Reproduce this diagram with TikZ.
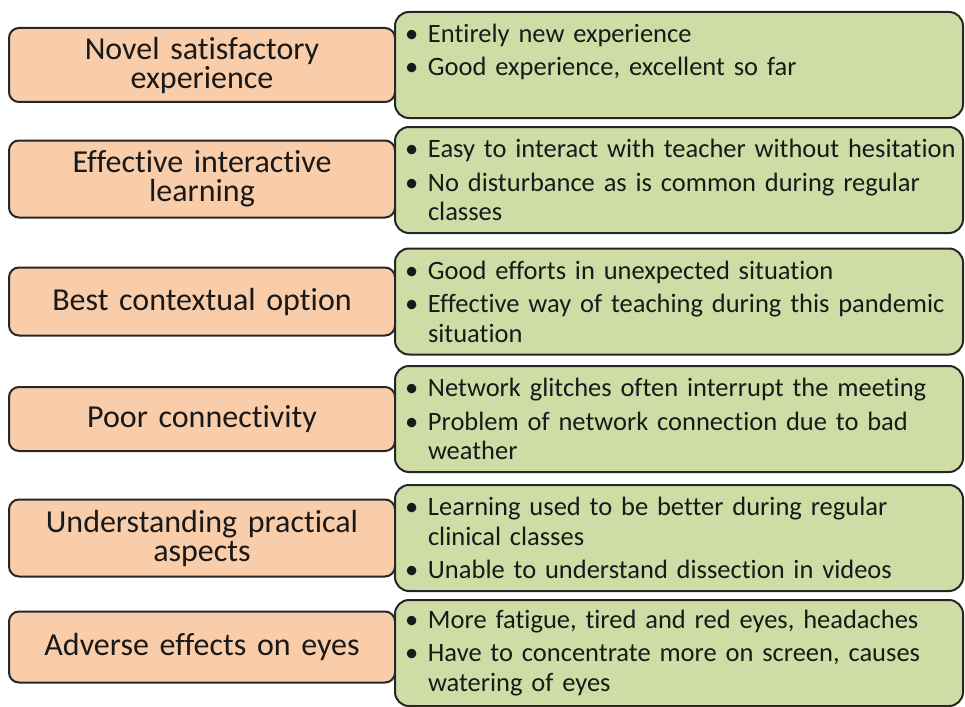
\documentclass[tikz,border=0pt]{standalone}
\usepackage{fontspec}
\setmainfont{Carlito}[Ligatures=NoCommon]
\usepackage{xcolor}
\definecolor{colorTheme}{RGB}{250,205,170}
\definecolor{colorDetail}{RGB}{206,221,166}
\colorlet{colorEdge}{black!85}
\usetikzlibrary{positioning}
\newcommand{\itm}[1]{\hangindent=30pt\hangafter=1\noindent\makebox[30pt][l]{\hspace{7pt}\textbullet}#1\par}
\newcommand{\gap}{\vspace{4pt}}
\tikzset{
  theme/.style={draw=colorEdge, line width=2pt, fill=colorTheme, rounded corners=10pt,
    minimum width=386pt, minimum height=74pt, text width=370pt, inner sep=0pt,
    align=center, font=\fontsize{32}{29}\selectfont},
  detail/.style={draw=colorEdge, line width=2pt, fill=colorDetail, rounded corners=14pt,
    minimum width=568pt, minimum height=106pt, text width=562pt, inner xsep=3pt, inner ysep=6pt,
    align=left, font=\fontsize{26.5}{29.5}\selectfont}
}

\begin{document}
\begin{tikzpicture}[x=1pt, y=-1pt, every node/.style={text=black!90}]
\useasboundingbox (0,0) rectangle (965,706);
\node[theme] (t1) at (202,65) {Novel satisfactory\\experience};
\node[theme, minimum height=77pt] (t2) at (202,179) {Effective interactive\\learning};
\node[theme, minimum height=68pt] (t3) at (202,301.5) {Best contextual option};
\node[theme, minimum height=64pt] (t4) at (202,419) {Poor connectivity};
\node[theme, minimum height=77pt] (t5) at (202,538) {Understanding practical\\aspects};
\node[theme, minimum height=71pt] (t6) at (202,647) {Adverse effects on eyes};
\node[detail, right=-2pt of t1] (d1) {\itm{Entirely new experience}\gap\itm{Good experience, excellent so far}\vspace{26pt}};
\node[detail, right=-2pt of t2, yshift=-1pt] (d2) {\itm{Easy to interact with teacher without hesitation}\gap\itm{No disturbance as is common during regular\hfil\break classes}};
\node[detail, right=-2pt of t3] (d3) {\itm{Good efforts in unexpected situation}\gap\itm{Effective way of teaching during this pandemic\hfil\break situation}};
\node[detail, right=-2pt of t4] (d4) {\itm{Network glitches often interrupt the meeting}\gap\itm{Problem of network connection due to bad\hfil\break weather}};
\node[detail, right=-2pt of t5] (d5) {\itm{Learning used to be better during regular\hfil\break clinical classes}\gap\itm{Unable to understand dissection in videos}};
\node[detail, right=-2pt of t6, yshift=-6pt] (d6) {\itm{More fatigue, tired and red eyes, headaches}\gap\itm{Have to concentrate more on screen, causes\hfil\break watering of eyes}};
\end{tikzpicture}
\end{document}
